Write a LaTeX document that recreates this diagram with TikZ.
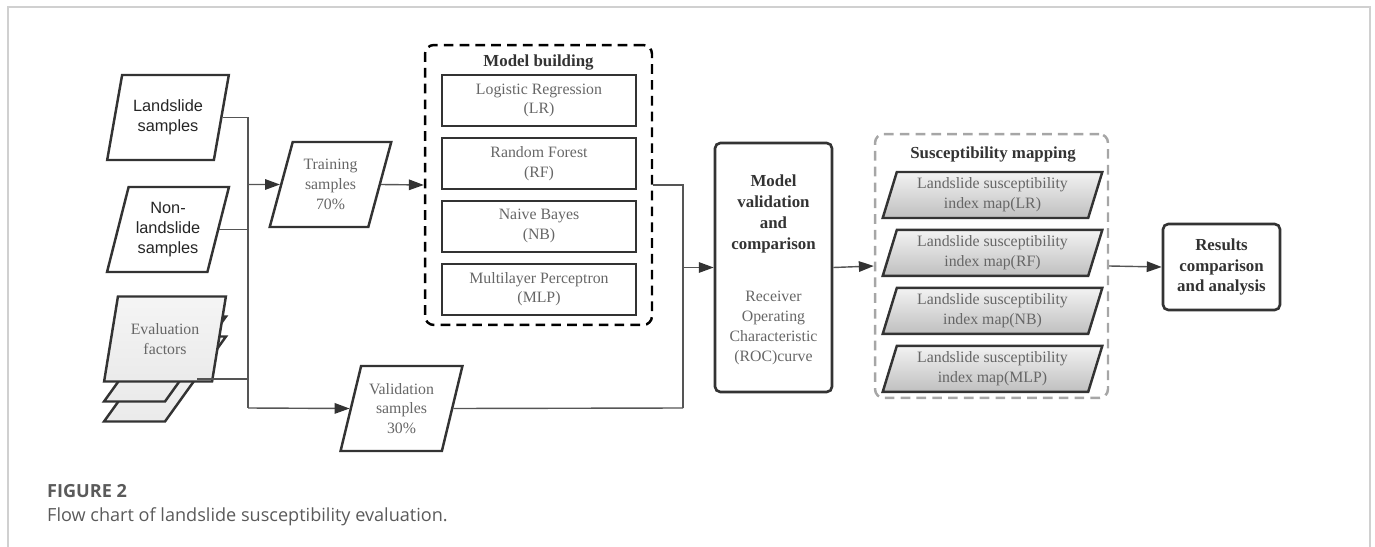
\documentclass[tikz,border=0pt]{standalone}
\usepackage{fontspec}
\setmainfont{Liberation Serif}
\setsansfont{Liberation Sans}
\newfontfamily\capfont{Open Sans}
\usepackage{xcolor}
\usetikzlibrary{arrows.meta, positioning, shapes.geometric, fit, calc}
\definecolor{edge}{HTML}{333333}
\definecolor{wire}{HTML}{555555}
\definecolor{txtgray}{HTML}{666666}
\definecolor{framegray}{HTML}{D0D0D0}
\definecolor{capgray}{HTML}{5A5A5A}

\begin{document}
\begin{tikzpicture}[
		x=0.02cm, y=-0.02cm,
		node distance=0.2cm,
		datain/.style={trapezium, trapezium left angle=72, trapezium right angle=108,
			trapezium stretches=true, draw=edge, line width=1.4pt, inner sep=0pt,
			minimum width=2.44cm, minimum height=1.7cm, align=center},
		txt/.style={font=\rmfamily\mdseries\fontsize{9}{11.3}\selectfont, text=txtgray},
		sans/.style={font=\sffamily\fontsize{9.3}{11.3}\selectfont, text=black!85},
		model/.style={rectangle, draw=edge, line width=1.1pt, minimum width=3.88cm,
			minimum height=1.02cm, align=center, txt},
		mapbox/.style={datain, minimum width=4.42cm, minimum height=0.92cm,
			top color=gray!10, bottom color=gray!50, txt},
		stage/.style={rectangle, rounded corners=3pt, draw=edge, line width=1.5pt,
			minimum width=2.34cm, align=center},
		group/.style={rectangle, rounded corners=5pt, dashed, line width=1.4pt,
			dash pattern=on 5.5pt off 3.5pt},
		ttl/.style={font=\rmfamily\bfseries\fontsize{9.6}{11.8}\selectfont, text=edge, align=center},
		line/.style={draw=wire, line width=0.8pt},
		arr/.style={line, -{Triangle[length=8.5pt, width=6pt, color=edge]}}
		]
		\useasboundingbox (0,0) rectangle (1375,547);
		\draw[framegray, line width=1.2pt] (8,560) -- (8,7) -- (1370,7) -- (1370,560);
		
		% input data
		\node[datain, sans] (ls) at (168,117.5) {Landslide\\samples};
		\node[datain, sans] (ns) at (168,229.5) {Non-\\landslide\\samples};
		\node[datain, top color=gray!8, bottom color=gray!16] (ef3) at (165,379) {\strut};
		\node[datain, top color=gray!8, bottom color=gray!16] (ef2) at (165,359) {\strut};
		\node[datain, top color=gray!8, bottom color=gray!16, txt] (ef) at (165,339) {Evaluation\\factors};
		
		\node[datain, txt] (ts) at (330.5,184.5) {Training\\samples\\70\%};
		\node[datain, txt] (vs) at (401.5,408.5) {Validation\\samples\\30\%};
		
		% model building
		\node[group, draw=black, minimum width=4.54cm, minimum height=5.6cm] (mb) at (538.5,185) {};
		\node[ttl] (mbt) at (538.5,63) {Model building};
		\node[model] (lr) at (539,100.5) {Logistic Regression\\(LR)};
		\node[model, below=of lr] (rf) {Random Forest\\(RF)};
		\node[model, below=of rf] (nb) {Naive Bayes\\(NB)};
		\node[model, below=of nb] (mlp) {Multilayer Perceptron\\(MLP)};
		
		\node[stage, minimum height=4.98cm] (mv) at (773.5,267.5) {};
		\node[ttl] (mvt) at (773.5,214) {Model\\validation\\and\\comparison};
		\node[txt, align=center] (mvs) at (773.5,328) {Receiver\\Operating\\Characteristic\\(ROC)curve};
		
		% susceptibility mapping
		\node[group, draw=gray!70, minimum width=4.66cm, minimum height=5.28cm] (sm) at (991.5,266) {};
		\node[ttl] (smt) at (993,155) {Susceptibility mapping};
		\node[mapbox] (m1) at (992.5,195) {Landslide susceptibility\\index map(LR)};
		\node[mapbox, below=0.19cm of m1] (m2) {Landslide susceptibility\\index map(RF)};
		\node[mapbox, below=0.19cm of m2] (m3) {Landslide susceptibility\\index map(NB)};
		\node[mapbox, below=0.19cm of m3] (m4) {Landslide susceptibility\\index map(MLP)};
		
		\node[stage, minimum height=1.72cm, ttl] (rc) at (1221.5,267) {Results\\comparison\\and analysis};
		
		% connectors
		\coordinate (jl) at (248,408);
		\coordinate (jr) at (683,408);
		\draw[line] (ls.east) -| (jl);
		\draw[line] (ns.east) -- (ns.east -| jl);
		\draw[line] (ef3.east) -- (ef3.east -| jl);
		\draw[arr] (jl |- ts) -- (ts.west);
		\draw[arr] (jl) -- (vs.west);
		\draw[arr] (ts.east) -- (mb.west);
		\draw[line] (mb.east) -| (jr);
		\draw[line] (vs.east) -- (jr);
		\draw[arr] (jr |- mv) -- (mv.west);
		\draw[arr] (mv.east) -- (sm.west);
		\draw[arr] (sm.east) -- (rc.west);
		
		% caption
		\node[anchor=base west, font=\capfont\bfseries\fontsize{10.3}{12}\selectfont, text=capgray] (fig) at (41,497) {FIGURE 2};
		\node[anchor=base west, font=\capfont\fontsize{10.3}{12}\selectfont, text=capgray] (cap) at (41,521) {Flow chart of landslide susceptibility evaluation.};
	\end{tikzpicture}
\end{document}
